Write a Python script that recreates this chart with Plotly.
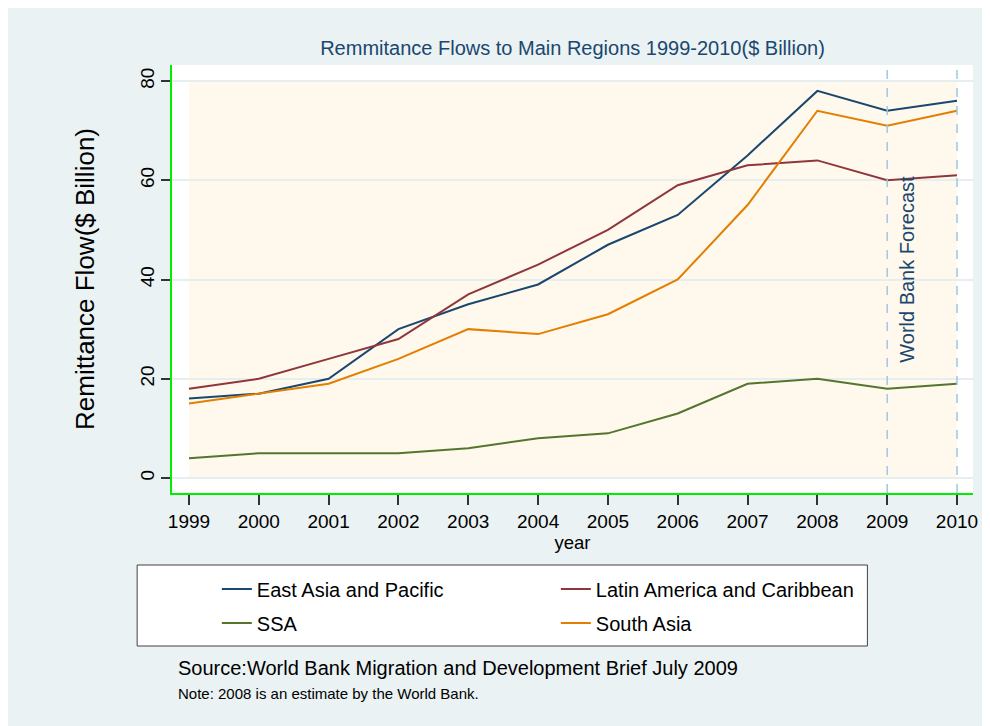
import plotly.graph_objects as go

# ---- data ----
years = [1999, 2000, 2001, 2002, 2003, 2004, 2005, 2006, 2007, 2008, 2009, 2010]
east_asia = [16, 17, 20, 30, 35, 39, 47, 53, 65, 78, 74, 76]
latin_america = [18, 20, 24, 28, 37, 43, 50, 59, 63, 64, 60, 61]
ssa = [4, 5, 5, 5, 6, 8, 9, 13, 19, 20, 18, 19]
south_asia = [15, 17, 19, 24, 30, 29, 33, 40, 55, 74, 71, 74]
forecast_years = [2009, 2010]
y_ticks = [0, 20, 40, 60, 80]

series = [
    ("East Asia and Pacific", east_asia, "#1a476f", "legend"),
    ("Latin America and Caribbean", latin_america, "#90353b", "legend"),
    ("SSA", ssa, "#55752f", "legend2"),
    ("South Asia", south_asia, "#e37e00", "legend2"),
]

FONT = "Liberation Sans, Arial, sans-serif"
BG = "#EAF2F3"

fig = go.Figure()
for name, vals, col, lg in series:
    fig.add_trace(go.Scatter(x=years, y=vals, name=name, mode="lines", legend=lg,
                             line=dict(color=col, width=2)))

shapes = []
# cream inner region over the data range
shapes.append(dict(type="rect", xref="x", yref="y", x0=years[0], x1=years[-1],
                   y0=y_ticks[0], y1=y_ticks[-1], fillcolor="#FEF9EC",
                   line=dict(width=0), layer="below"))
# forecast dashed lines
for fy in forecast_years:
    shapes.append(dict(type="line", xref="x", yref="paper", x0=fy, x1=fy, y0=0, y1=1,
                       line=dict(color="#9cc8e6", width=1.5, dash="dash"), layer="above"))
# legend box
shapes.append(dict(type="rect", xref="paper", yref="paper", x0=(137 - 172) / 804,
                   x1=(870 - 172) / 804, y0=(493 - 646) / 428, y1=(493 - 565) / 428,
                   fillcolor="white", line=dict(color="#404040", width=1), layer="below"))

legend_common = dict(orientation="h", x=0.056, xanchor="left", yanchor="middle",
                     bgcolor="rgba(0,0,0,0)", entrywidth=294, entrywidthmode="pixels",
                     font=dict(size=20, color="black"), traceorder="normal")

fig.update_layout(
    width=982, height=718,
    margin=dict(l=164, r=14, t=57, b=233),
    paper_bgcolor=BG, plot_bgcolor="white",
    font=dict(family=FONT, color="black"),
    title=dict(text="Remmitance Flows to Main Regions 1999-2010($ Billion)",
               x=0.5, xref="paper", xanchor="center", y=1 - 40 / 718, yanchor="middle",
               font=dict(size=20, color="#1a476f")),
    shapes=shapes,
    showlegend=True,
    legend=dict(y=(493 - 589) / 428, **legend_common),
    legend2=dict(y=(493 - 623) / 428, **legend_common),
    annotations=[
        dict(text="World Bank Forecast", x=forecast_years[0], y=42, xref="x", yref="y",
             textangle=-90, showarrow=False, xanchor="left", yanchor="middle", xshift=6,
             font=dict(size=20, color="#1a476f")),
        dict(text="Source:World Bank Migration and Development Brief July 2009",
             x=(176 - 172) / 804, y=(493 - 668) / 428, xref="paper", yref="paper",
             xanchor="left", yanchor="middle", showarrow=False,
             font=dict(size=20, color="black")),
        dict(text="Note: 2008 is an estimate by the World Bank.",
             x=(176 - 172) / 804, y=(493 - 693) / 428, xref="paper", yref="paper",
             xanchor="left", yanchor="middle", showarrow=False,
             font=dict(size=15, color="black")),
    ],
)

fig.update_xaxes(range=[1998.757, 2010.229], tickmode="array", tickvals=years,
                 ticktext=[str(y) for y in years], ticks="outside", ticklen=10,
                 tickwidth=1.5, tickcolor="#333333", showgrid=False, zeroline=False,
                 showline=True, linecolor="#00ee00", linewidth=1.5,
                 tickfont=dict(size=19, color="black"),
                 title=dict(text="year", font=dict(size=18.5, color="black"), standoff=4))
fig.update_yaxes(range=[-3.02, 83.22], tickmode="array", tickvals=y_ticks,
                 ticks="outside", ticklen=9, tickwidth=1.5, tickcolor="#333333",
                 tickangle=-90, showgrid=True, gridcolor="#E6EEF0", gridwidth=2,
                 zeroline=False, showline=True, linecolor="#00ee00", linewidth=1.5,
                 tickfont=dict(size=19, color="black"),
                 title=dict(text="Remittance Flow($ Billion)",
                            font=dict(size=26, color="black"), standoff=35))

fig.write_html("out.html")
